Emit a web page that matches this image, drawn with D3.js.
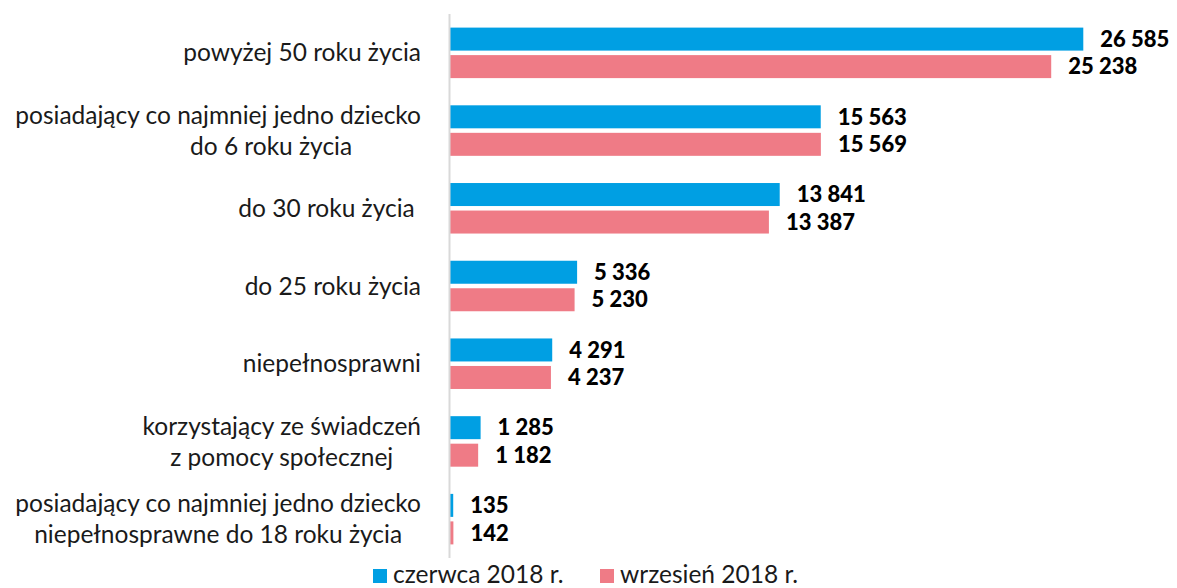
<!DOCTYPE html>
<html>
<head>
<meta charset="utf-8">
<script src="https://cdn.jsdelivr.net/npm/d3@7"></script>
<style>
  body { margin: 0; background: #fff; }
  svg { display: block; font-family: Lato, "Open Sans", sans-serif; }
</style>
</head>
<body>
<div id="chart"></div>
<script>
// category labels (lines), top to bottom
const categories = [
  ["powyżej 50 roku życia"],
  ["posiadający co najmniej jedno dziecko", "do 6 roku życia"],
  ["do 30 roku życia\u00a0"],
  ["do 25 roku życia"],
  ["niepełnosprawni"],
  ["korzystający ze świadczeń", "z pomocy społecznej"],
  ["posiadający co najmniej jedno dziecko", "niepełnosprawne do 18 roku życia"]
];
const seriesNames = ["czerwca 2018 r.", "wrzesień 2018 r."];
const june = [26585, 15563, 13841, 5336, 4291, 1285, 135];
const september = [25238, 15569, 13387, 5230, 4237, 1182, 142];
const colors = ["#009fe3", "#ef7b86"];

const W = 1177, H = 588;
const labelSize = 24.5;
const svg = d3.select("#chart").append("svg").attr("width", W).attr("height", H);

const ids = categories.map((c, i) => i);
const x = d3.scaleLinear().domain([0, 28000]).range([450, 1117]);
const y0 = d3.scaleBand().domain(ids).range([14, 558]).paddingInner(0.35).paddingOuter(0.175);
const y1 = d3.scaleBand().domain([0, 1]).range([0, y0.bandwidth()]).paddingInner(0.164);

const fmt = v => d3.format(",")(v).replace(/,/g, " ");
const series = [june, september];

const groups = svg.selectAll("g.grp").data(ids).join("g")
  .attr("class", "grp")
  .attr("transform", i => `translate(0,${y0(i)})`);

series.forEach((vals, s) => {
  groups.append("rect")
    .attr("x", x(0))
    .attr("y", y1(s))
    .attr("width", i => x(vals[i]) - x(0))
    .attr("height", y1.bandwidth())
    .attr("fill", colors[s]);
  groups.append("text")
    .attr("x", i => x(vals[i]) + 17)
    .attr("y", y1(s) + y1.bandwidth() / 2)
    .attr("dy", "0.35em")
    .attr("font-size", 22)
    .attr("font-weight", 900)
    .attr("fill", "#000")
    .text(i => fmt(vals[i]));
});

// axis line
svg.append("line")
  .attr("x1", x(0) - 0.5).attr("x2", x(0) - 0.5)
  .attr("y1", y0.range()[0]).attr("y2", y0.range()[1])
  .attr("stroke", "#d9d9d9").attr("stroke-width", 2);

// category labels
const lineH = 31;
ids.forEach(i => {
  const lines = categories[i];
  const cy = y0(i) + y0.bandwidth() / 2;
  const t = svg.append("text")
    .attr("font-size", labelSize)
    .attr("fill", "#1a1a1a");
  if (lines.length === 1) {
    t.attr("x", 421).attr("y", cy).attr("dy", "0.35em")
      .attr("text-anchor", "end").text(lines[0]);
  } else {
    // multi-line: measure first line, center lines in the block
    const tmp = svg.append("text").attr("font-size", labelSize).text(lines[0]);
    const w = tmp.node().getComputedTextLength();
    tmp.remove();
    const cx = 421 - w / 2;
    lines.forEach((ln, k) => {
      t.append("tspan")
        .attr("x", (i === 1 && k === 1) ? 190 : cx)
        .attr("text-anchor", (i === 1 && k === 1) ? "start" : "middle")
        .attr("y", cy + (k - (lines.length - 1) / 2) * lineH)
        .attr("dy", "0.35em")
        .text(ln);
    });
  }
});

// legend
const leg = svg.append("g").attr("transform", "translate(373,569)");
const legX = [0, 227];
seriesNames.forEach((n, s) => {
  leg.append("rect").attr("x", legX[s]).attr("y", 0).attr("width", 14).attr("height", 14).attr("fill", colors[s]);
  leg.append("text").attr("x", legX[s] + 20).attr("y", 14)
    .attr("font-size", labelSize).attr("fill", "#1a1a1a").text(n);
});
</script>
</body>
</html>
